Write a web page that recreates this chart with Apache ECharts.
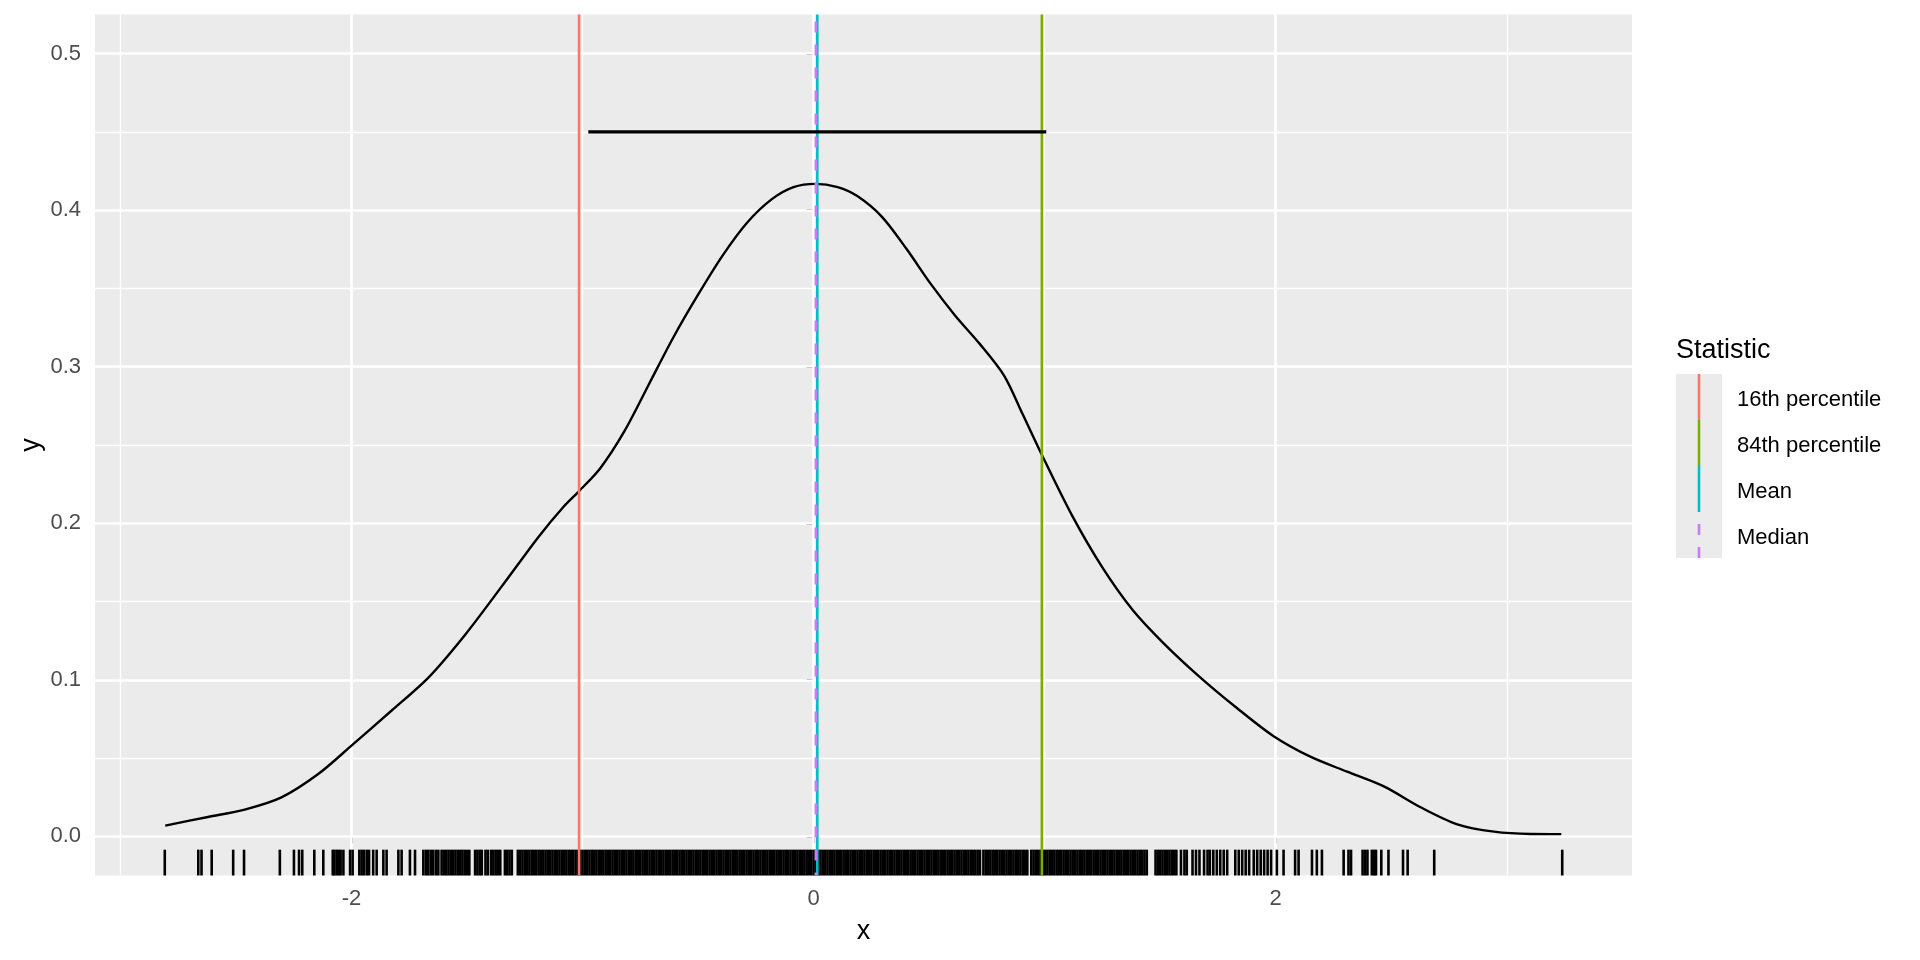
<!DOCTYPE html>
<html>
<head>
<meta charset="utf-8">
<title>density</title>
<script src="https://cdn.jsdelivr.net/npm/echarts@6/dist/echarts.min.js"></script>
<style>
  html, body { margin: 0; padding: 0; background: #fff; }
  #main { width: 1920px; height: 960px; }
</style>
</head>
<body>
<div id="main"></div>
<script>
// density estimate
var densityX = [-2.806, -2.621, -2.462, -2.303, -2.144, -1.995, -1.826, -1.666, -1.507, -1.348,
  -1.189, -1.083, -1.014, -0.924, -0.818, -0.712, -0.606, -0.500, -0.394, -0.288,
  -0.182, -0.087, 0.008, 0.104, 0.189, 0.295, 0.401, 0.507, 0.613, 0.719,
  0.825, 0.904, 0.984, 1.116, 1.249, 1.381, 1.514, 1.673, 1.832, 1.991,
  2.150, 2.309, 2.468, 2.627, 2.786, 2.945, 3.104, 3.236];
var densityY = [0.0069, 0.0124, 0.0171, 0.0249, 0.0398, 0.0586, 0.0804, 0.1016, 0.129, 0.160,
  0.1916, 0.2104, 0.2207, 0.235, 0.259, 0.289, 0.319, 0.346, 0.371, 0.392,
  0.4069, 0.4147, 0.4168, 0.4147, 0.409, 0.3959, 0.3755, 0.3529, 0.3326, 0.3146,
  0.2942, 0.2699, 0.2449, 0.2057, 0.172, 0.1446, 0.1235, 0.1016, 0.082, 0.064,
  0.0509, 0.0413, 0.0319, 0.0186, 0.0077, 0.003, 0.0015, 0.0014];

// raw observations (rug)
var rugX = [
  -2.808, -2.663, -2.649, -2.605, -2.512, -2.465, -2.310, -2.249, -2.227, -2.213,
  -2.161, -2.122, -2.081, -2.074, -2.064, -2.055, -2.047, -2.035, -2.006, -1.995,
  -1.966, -1.956, -1.946, -1.934, -1.924, -1.906, -1.891, -1.862, -1.848, -1.797,
  -1.783, -1.747, -1.725, -1.689, -1.678, -1.668, -1.657, -1.646, -1.634, -1.624,
  -1.610, -1.600, -1.59, -1.58, -1.57, -1.56, -1.55, -1.54, -1.53, -1.52,
  -1.51, -1.50, -1.49, -1.465, -1.455, -1.445, -1.436, -1.42, -1.41, -1.396,
  -1.386, -1.376, -1.366, -1.356, -1.336, -1.326, -1.316, -1.306,
  -1.28, -1.27, -1.26, -1.25, -1.24, -1.23, -1.22, -1.21, -1.20, -1.19,
  -1.18, -1.17, -1.16, -1.15, -1.14, -1.13, -1.12, -1.11, -1.10, -1.09,
  -1.08, -1.07, -1.06, -1.05, -1.04, -1.03, -1.02, -1.01, -1.00, -0.99,
  -0.98, -0.97, -0.96, -0.95, -0.94, -0.93, -0.92, -0.91, -0.90, -0.89,
  -0.88, -0.87, -0.86, -0.85, -0.84, -0.83, -0.82, -0.81, -0.80, -0.79,
  -0.78, -0.77, -0.76, -0.75, -0.74, -0.73, -0.72, -0.71, -0.70, -0.69,
  -0.68, -0.67, -0.66, -0.65, -0.64, -0.63, -0.62, -0.61, -0.60, -0.59,
  -0.58, -0.57, -0.56, -0.55, -0.54, -0.53, -0.52, -0.51, -0.50, -0.49,
  -0.48, -0.47, -0.46, -0.45, -0.44, -0.43, -0.42, -0.41, -0.40, -0.39,
  -0.38, -0.37, -0.36, -0.35, -0.34, -0.33, -0.32, -0.31, -0.30, -0.29,
  -0.28, -0.27, -0.26, -0.25, -0.24, -0.23, -0.22, -0.21, -0.20, -0.19,
  -0.18, -0.17, -0.16, -0.15, -0.14, -0.13, -0.12, -0.11, -0.10, -0.09,
  -0.08, -0.07, -0.06, -0.05, -0.04, -0.03, -0.02, -0.01, 0.00, 0.01,
  0.02, 0.03, 0.04, 0.05, 0.06, 0.07, 0.08, 0.09, 0.10, 0.11,
  0.12, 0.13, 0.14, 0.15, 0.16, 0.17, 0.18, 0.19, 0.20, 0.21,
  0.22, 0.23, 0.24, 0.25, 0.26, 0.27, 0.28, 0.29, 0.30, 0.31,
  0.32, 0.33, 0.34, 0.35, 0.36, 0.37, 0.38, 0.39, 0.40, 0.41,
  0.42, 0.43, 0.44, 0.45, 0.46, 0.47, 0.48, 0.49, 0.50, 0.51,
  0.52, 0.53, 0.54, 0.55, 0.56, 0.57, 0.58, 0.59, 0.60, 0.61,
  0.62, 0.63, 0.64, 0.65, 0.66, 0.67, 0.68, 0.69, 0.70, 0.71,
  0.72, 0.735, 0.745, 0.755, 0.765, 0.775, 0.785, 0.795, 0.805, 0.815,
  0.825, 0.835, 0.845, 0.855, 0.865, 0.875, 0.885, 0.895, 0.905, 0.915,
  0.925, 0.942, 0.952, 0.962, 0.972, 0.982, 0.992, 1.002, 1.012, 1.022,
  1.032, 1.042, 1.052, 1.062, 1.072, 1.082, 1.092, 1.102, 1.112, 1.122,
  1.132, 1.142, 1.152, 1.162, 1.172, 1.182, 1.192, 1.202, 1.212, 1.222,
  1.232, 1.242, 1.252, 1.262, 1.272, 1.282, 1.292, 1.302, 1.312, 1.322,
  1.332, 1.342, 1.352, 1.362, 1.372, 1.382, 1.392, 1.402, 1.412, 1.422,
  1.432, 1.442, 1.48, 1.49, 1.50, 1.51, 1.52, 1.53, 1.54, 1.55,
  1.56, 1.57, 1.59, 1.605, 1.615, 1.64, 1.655, 1.67, 1.69, 1.705,
  1.715, 1.73, 1.745, 1.76, 1.775, 1.79, 1.825, 1.84, 1.855, 1.87,
  1.885, 1.905, 1.92, 1.935, 1.95, 1.965, 1.98, 2.005, 2.034, 2.084,
  2.099, 2.157, 2.178, 2.200, 2.294, 2.315, 2.326, 2.376, 2.387, 2.397,
  2.416, 2.426, 2.434, 2.457, 2.488, 2.551, 2.571, 2.686, 3.24
];

var statNames = ['16th percentile', '84th percentile', 'Mean', 'Median'];
var statValues = [-1.015, 0.988, 0.016, 0.010];
var statColors = ['#F8766D', '#7CAE00', '#00BFC4', '#C77CFF'];

// mean +/- sd bar
var spreadX = [-0.975, 1.007];
var spreadY = 0.45;

var xTicks = [-2, 0, 2];
var xMinor = [-3, -1, 1, 3];
var yTicks = [0, 0.1, 0.2, 0.3, 0.4, 0.5];
var yMinor = [0.05, 0.15, 0.25, 0.35, 0.45];

var X_MIN = -3.11, X_MAX = 3.542;
var Y_MIN = -0.025, Y_MAX = 0.525;
var FONT = '"Liberation Sans", Arial, sans-serif';

var myChart = echarts.init(document.getElementById('main'));

var gridLines = [];
xMinor.forEach(function (v) { gridLines.push({ xAxis: v, lineStyle: { color: '#fff', width: 1.3, type: 'solid' } }); });
yMinor.forEach(function (v) { gridLines.push({ yAxis: v, lineStyle: { color: '#fff', width: 1.3, type: 'solid' } }); });
xTicks.forEach(function (v) { gridLines.push({ xAxis: v, lineStyle: { color: '#fff', width: 2.6, type: 'solid' } }); });
yTicks.forEach(function (v) { gridLines.push({ yAxis: v, lineStyle: { color: '#fff', width: 2.6, type: 'solid' } }); });

var series = [];
// panel grid lines
series.push({
  type: 'line',
  data: [],
  silent: true,
  markLine: {
    silent: true,
    z: 1,
    symbol: ['none', 'none'],
    label: { show: false },
    animation: false,
    data: gridLines
  }
});
// density curve
series.push({
  type: 'line',
  z: 3,
  data: densityX.map(function (x, i) { return [x, densityY[i]]; }),
  smooth: 0.3,
  showSymbol: false,
  silent: true,
  lineStyle: { color: '#000', width: 2.4 }
});
// rug
series.push({
  type: 'custom',
  z: 4,
  silent: true,
  data: rugX.map(function (x) { return [x, Y_MIN]; }),
  encode: { x: 0, y: 1 },
  renderItem: function (params, api) {
    var p = api.coord([api.value(0), Y_MIN]);
    var len = params.coordSys.height * 0.03;
    return {
      type: 'line',
      shape: { x1: p[0], y1: p[1], x2: p[0], y2: p[1] - len },
      style: { stroke: '#000', lineWidth: 2.6 }
    };
  }
});
// statistic lines
statValues.forEach(function (v, i) {
  series.push({
    type: 'line',
    name: statNames[i],
    z: 5 + i,
    silent: true,
    showSymbol: false,
    data: [[v, Y_MAX], [v, Y_MIN]],
    lineStyle: {
      color: statColors[i],
      width: 2.6,
      type: statNames[i] === 'Median' ? [11, 12] : 'solid',
      dashOffset: 16
    }
  });
});
// spread bar
series.push({
  type: 'line',
  z: 10,
  silent: true,
  showSymbol: false,
  data: [[spreadX[0], spreadY], [spreadX[1], spreadY]],
  lineStyle: { color: '#000', width: 3.4 }
});

// legend built by hand (ggplot style keys), plus the y title
var keyX = 1676, keyTop = 374, keyH = 46, keyW = 46;
var legendGraphic = [
  {
    type: 'text', x: 32, y: 445, rotation: Math.PI / 2,
    style: { text: 'y', fontSize: 27, fontFamily: FONT, fill: '#000', align: 'center', verticalAlign: 'middle' }
  },
  {
    type: 'text', x: 1676, y: 351,
    style: { text: 'Statistic', fontSize: 27, fontFamily: FONT, fill: '#000', align: 'left', verticalAlign: 'middle' }
  },
  {
    type: 'rect',
    shape: { x: keyX, y: keyTop, width: keyW, height: keyH * statNames.length },
    style: { fill: '#EBEBEB' }
  }
];
statNames.forEach(function (name, i) {
  var y0 = keyTop + i * keyH;
  legendGraphic.push({
    type: 'line',
    shape: { x1: keyX + 23, y1: y0 + keyH, x2: keyX + 23, y2: y0 },
    style: {
      stroke: statColors[i],
      lineWidth: 2.6,
      lineDash: name === 'Median' ? [11, 12] : null
    }
  });
  legendGraphic.push({
    type: 'text', x: 1737, y: y0 + keyH / 2 + 2.5,
    style: { text: name, fontSize: 22, fontFamily: FONT, fill: '#000', align: 'left', verticalAlign: 'middle' }
  });
});

var option = {
  animation: false,
  backgroundColor: '#fff',
  grid: {
    left: 95, right: 288, top: 14.5, bottom: 84.5,
    show: true,
    backgroundColor: '#EBEBEB',
    borderWidth: 0,
    outerBoundsMode: 'none'
  },
  xAxis: {
    type: 'value',
    min: X_MIN,
    max: X_MAX,
    name: 'x',
    nameLocation: 'middle',
    nameGap: 43,
    nameTextStyle: { fontSize: 27, color: '#000', fontFamily: FONT },
    axisLine: { show: false },
    axisTick: { show: true, customValues: xTicks, length: 7, lineStyle: { color: '#333', width: 2 } },
    axisLabel: { customValues: xTicks, margin: 12, fontSize: 22, color: '#4D4D4D', fontFamily: FONT },
    splitLine: { show: false }
  },
  yAxis: {
    type: 'value',
    min: Y_MIN,
    max: Y_MAX,
    axisLine: { show: false },
    axisTick: { show: true, customValues: yTicks, length: 7, lineStyle: { color: '#333', width: 2 } },
    axisLabel: {
      customValues: yTicks, margin: 14, fontSize: 22, color: '#4D4D4D', fontFamily: FONT,
      formatter: function (v) { return v.toFixed(1); }
    },
    splitLine: { show: false }
  },
  graphic: legendGraphic,
  series: series
};

myChart.setOption(option);
</script>
</body>
</html>
